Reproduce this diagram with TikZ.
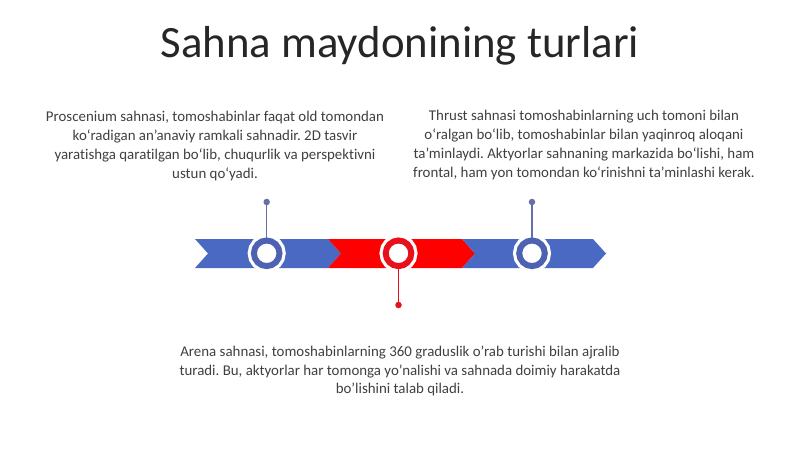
\documentclass[tikz,border=0pt]{standalone}
\usepackage{fontspec}
\setmainfont[Ligatures=NoCommon]{Carlito}
\definecolor{tblue}{HTML}{4A69C2}
\definecolor{ringblue}{HTML}{4E62B4}
\definecolor{tred}{HTML}{FF0000}
\definecolor{ringred}{HTML}{E8101A}
\definecolor{stemblue}{HTML}{6670A8}
\definecolor{txt}{HTML}{404040}
\begin{document}
\frenchspacing
\begin{tikzpicture}[x=1pt,y=-1pt,
  ring/.style={circle, minimum size=25.6pt, inner sep=0pt, line width=6pt, draw=#1,
    preaction={draw=white, fill=white, line width=12.4pt}},
  dot/.style={circle, fill=#1, inner sep=0pt, minimum size=6.5pt},
  stem/.style={draw=#1, line width=1.3pt},
  desc/.style={text=txt, align=center, font=\fontsize{14.9}{18.7}\selectfont, inner sep=0pt}
]
\useasboundingbox[fill=white] (0,0) rectangle (800,449);
\node[text=black!85, font=\fontsize{44.8}{52}\selectfont, inner sep=0pt] (title) at (400,46) {Sahna maydonining turlari};
% chevrons
\fill[tblue] (195,239) -- (328,239) -- (341,253.5) -- (328,268) -- (195,268) -- (208,253.5) -- cycle;
\fill[tred] (328,239) -- (462,239) -- (475,253.5) -- (462,268) -- (328,268) -- (341,253.5) -- cycle;
\fill[tblue] (462,239) -- (593,239) -- (606,253.5) -- (593,268) -- (462,268) -- (475,253.5) -- cycle;
% rings
\node[ring=ringblue] (c1) at (266.7,253.3) {};
\node[ring=ringred] (c2) at (398.5,253.3) {};
\node[ring=ringblue] (c3) at (532,253.3) {};
% stems and dots
\node[dot=stemblue] (d1) at (266.7,202) {};
\node[dot=ringred] (d2) at (398.5,305) {};
\node[dot=stemblue] (d3) at (532,202) {};
\draw[stem=stemblue] (c1.north) -- (d1.center);
\draw[stem=ringred] (c2.south) -- (d2.center);
\draw[stem=stemblue] (c3.north) -- (d3.center);
% texts
\node[desc] (t1) at (215,146) {Proscenium sahnasi, tomoshabinlar faqat old tomondan\\ko‘radigan an’anaviy ramkali sahnadir. 2D tasvir\\yaratishga qaratilgan bo‘lib, chuqurlik va perspektivni\\ustun qo‘yadi.};
\node[desc] (t2) at (584,145) {Thrust sahnasi tomoshabinlarning uch tomoni bilan\\o‘ralgan bo‘lib, tomoshabinlar bilan yaqinroq aloqani\\ta’minlaydi. Aktyorlar sahnaning markazida bo‘lishi, ham\\frontal, ham yon tomondan ko‘rinishni ta’minlashi kerak.};
\node[desc] (t3) at (400,371) {Arena sahnasi, tomoshabinlarning 360 graduslik o'rab turishi bilan ajralib\\turadi. Bu, aktyorlar har tomonga yo'nalishi va sahnada doimiy harakatda\\bo'lishini talab qiladi.};
\end{tikzpicture}
\end{document}
